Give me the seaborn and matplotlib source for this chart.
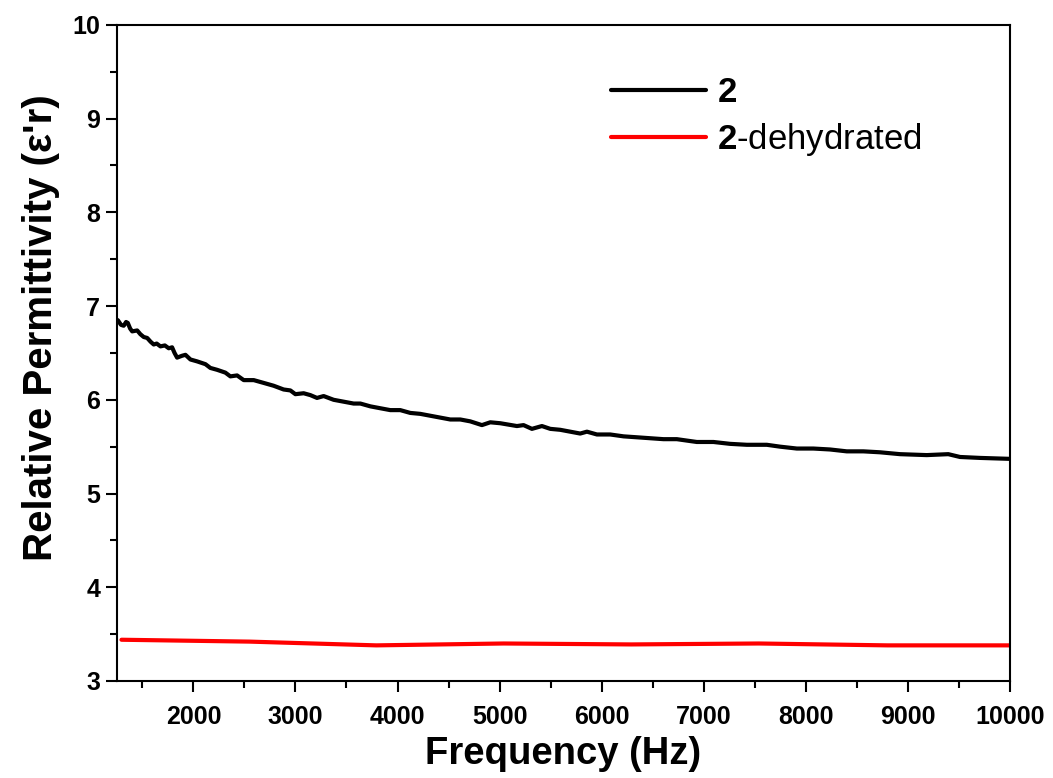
import numpy as np
import pandas as pd
import matplotlib
matplotlib.use("Agg")
import matplotlib.pyplot as plt
import seaborn as sns
from matplotlib.ticker import MultipleLocator

# black curve (compound 2)
freq_2 = [1259, 1290, 1317, 1340, 1357, 1380, 1400, 1449, 1480, 1513, 1547, 1580, 1611,
          1640, 1677, 1720, 1758, 1791, 1815, 1840, 1889, 1922, 1971, 2036, 2118, 2166,
          2232, 2313, 2362, 2428, 2493, 2591, 2689, 2786, 2884, 2950, 2999, 3080, 3146,
          3211, 3276, 3374, 3472, 3570, 3636, 3734, 3831, 3929, 4027, 4125, 4223, 4321,
          4419, 4517, 4615, 4713, 4827, 4909, 5007, 5170, 5235, 5317, 5415, 5497, 5594,
          5692, 5790, 5856, 5954, 6084, 6215, 6346, 6476, 6606, 6737, 6867, 6933, 7096,
          7259, 7423, 7619, 7749, 7913, 8075, 8238, 8402, 8565, 8728, 8924, 9186, 9397,
          9512, 9708, 10000]
eps_2 = [6.85, 6.80, 6.79, 6.83, 6.82, 6.76, 6.73, 6.74, 6.70, 6.67, 6.66, 6.62, 6.59,
         6.60, 6.57, 6.58, 6.55, 6.56, 6.50, 6.45, 6.47, 6.48, 6.43, 6.41, 6.38, 6.34,
         6.32, 6.29, 6.25, 6.26, 6.21, 6.21, 6.18, 6.15, 6.11, 6.10, 6.06, 6.07, 6.05,
         6.02, 6.04, 6.00, 5.98, 5.96, 5.96, 5.93, 5.91, 5.89, 5.89, 5.86, 5.85, 5.83,
         5.81, 5.79, 5.79, 5.77, 5.73, 5.76, 5.75, 5.72, 5.73, 5.69, 5.72, 5.69, 5.68,
         5.66, 5.64, 5.66, 5.63, 5.63, 5.61, 5.60, 5.59, 5.58, 5.58, 5.56, 5.55, 5.55,
         5.53, 5.52, 5.52, 5.50, 5.48, 5.48, 5.47, 5.45, 5.45, 5.44, 5.42, 5.41, 5.42,
         5.39, 5.38, 5.37]

# red curve (2-dehydrated)
freq_2d = [1295, 2550, 3792, 5040, 6290, 7540, 8800, 10000]
eps_2d = [3.44, 3.42, 3.38, 3.40, 3.39, 3.40, 3.38, 3.38]

labels = [r"$\mathbf{2}$", r"$\mathbf{2}$-dehydrated"]

df = pd.concat([
    pd.DataFrame({"freq": freq_2, "eps": eps_2, "sample": labels[0]}),
    pd.DataFrame({"freq": freq_2d, "eps": eps_2d, "sample": labels[1]}),
])

sns.set_style("ticks")
plt.rcParams["font.family"] = ["Liberation Sans", "DejaVu Sans"]
plt.rcParams["mathtext.fontset"] = "custom"
plt.rcParams["mathtext.rm"] = "Liberation Sans"
plt.rcParams["mathtext.bf"] = "Liberation Sans:bold"
for k in ["text.color", "axes.labelcolor", "xtick.color", "ytick.color", "axes.edgecolor"]:
    plt.rcParams[k] = "black"

fig = plt.figure(figsize=(10.53, 7.78), dpi=100)
ax = fig.add_axes([0.111, 0.1247, 0.848, 0.8433])

sns.lineplot(data=df, x="freq", y="eps", hue="sample", palette=["black", "#ff0000"],
             linewidth=3, ax=ax, sort=False, estimator=None)

ax.set_xlim(1250, 10000)
ax.set_ylim(3, 10)
ax.xaxis.set_major_locator(MultipleLocator(1000))
ax.xaxis.set_minor_locator(MultipleLocator(500))
ax.yaxis.set_major_locator(MultipleLocator(1))
ax.yaxis.set_minor_locator(MultipleLocator(0.5))
ax.tick_params(which="major", length=8, width=1.5, direction="out", labelsize=18)
ax.tick_params(which="minor", length=5, width=1.5, direction="out")
ax.tick_params(axis="x", which="major", pad=9)
ax.tick_params(axis="y", which="major", pad=4)
for lab in ax.get_xticklabels() + ax.get_yticklabels():
    lab.set_fontweight("bold")
for s in ax.spines.values():
    s.set_linewidth(1.5)
    s.set_visible(True)

ax.set_xlabel("Frequency (Hz)", fontsize=27.5, fontweight="bold", labelpad=5)
ax.set_ylabel("Relative Permittivity (\u03b5'r)", fontsize=29, fontweight="bold")
ax.yaxis.set_label_coords(-0.064, 0.538)

handles, _ = ax.get_legend_handles_labels()
leg = ax.legend(handles=handles, labels=labels, loc="upper left",
                bbox_to_anchor=(0.553, 0.922), frameon=False, fontsize=25,
                handlelength=2.75, handletextpad=0.32, labelspacing=0.35,
                borderpad=0, borderaxespad=0)
for line in leg.get_lines():
    line.set_linewidth(3)

fig.savefig("out.png", dpi=100)
